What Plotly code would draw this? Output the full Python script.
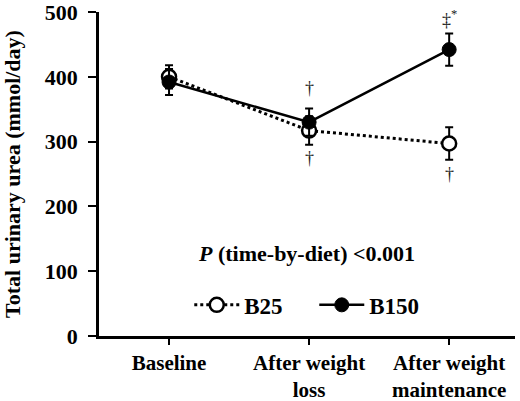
import plotly.graph_objects as go

# time points and group means / SEM
timepoints = ["Baseline", "After weight<br>loss", "After weight<br>maintenance"]
b25_mean = [400, 317, 297]
b25_err = [18, 22, 25]
b150_mean = [392, 330, 442]
b150_err = [20, 21, 25]

# significance marks: (time index, y value, text)
mark_x = [1, 1, 2, 2]
mark_y = [383, 274, 490, 250]
mark_text = ["†", "†", "‡<sup>*</sup>", "†"]

font_family = "Liberation Serif"

fig = go.Figure()

fig.add_trace(go.Scatter(
    x=timepoints, y=b25_mean, name="B25", mode="lines+markers",
    line=dict(color="black", width=3, dash="dot"),
    marker=dict(symbol="circle", size=14, color="white", line=dict(color="black", width=2.5)),
    error_y=dict(type="data", array=b25_err, color="black", thickness=2, width=4),
))
fig.add_trace(go.Scatter(
    x=timepoints, y=b150_mean, name="B150", mode="lines+markers",
    line=dict(color="black", width=2.5),
    marker=dict(symbol="circle", size=14, color="black", line=dict(color="black", width=1)),
    error_y=dict(type="data", array=b150_err, color="black", thickness=2, width=4),
))

for xi, yi, t in zip(mark_x, mark_y, mark_text):
    fig.add_annotation(x=timepoints[xi], y=yi, text=t, showarrow=False,
                       font=dict(family=font_family, size=18, color="#222"))

fig.add_annotation(x=0.498, xref="paper", y=128, yref="y",
                   text="<b><i>P</i> (time-by-diet) &lt;0.001</b>", showarrow=False,
                   font=dict(family=font_family, size=22, color="black"))

fig.update_layout(
    width=520, height=401,
    margin=dict(l=99, r=5, t=12, b=65, autoexpand=False),
    paper_bgcolor="white", plot_bgcolor="white",
    font=dict(family=font_family, size=21, color="black"),
    legend=dict(orientation="h", x=0.217, xanchor="left", y=0.096, yanchor="middle",
                font=dict(family=font_family, size=23, color="black", weight="bold"),
                itemwidth=45, entrywidth=65, entrywidthmode="pixels",
                bgcolor="rgba(0,0,0,0)"),
    showlegend=True,
)

fig.update_xaxes(
    range=[-0.5, 2.47], showline=True, linecolor="black", linewidth=2.5,
    ticks="outside", ticklen=6, tickwidth=2, tickcolor="black",
    showgrid=False, zeroline=False, ticklabelstandoff=0, tickangle=0, automargin=False,
    ticklabeloverflow="allow",
    tickfont=dict(family=font_family, size=21, color="black", weight="bold"),
)
fig.update_yaxes(
    range=[0, 500], dtick=100, showline=True, linecolor="black", linewidth=2.5,
    ticks="outside", ticklen=8, tickwidth=2, tickcolor="black",
    showgrid=False, zeroline=False, ticklabelstandoff=6, automargin=False,
    ticklabeloverflow="allow",
    tickfont=dict(family=font_family, size=22, color="black", weight="bold"),
    title=dict(text="<b>Total urinary urea (mmol/day)</b>", standoff=20,
               font=dict(family=font_family, size=22, color="black")),
)

# drop the default page margin so the figure fills the window
fig.write_html("out.html", config={"displayModeBar": False},
               post_script="document.body.style.margin='0';")
